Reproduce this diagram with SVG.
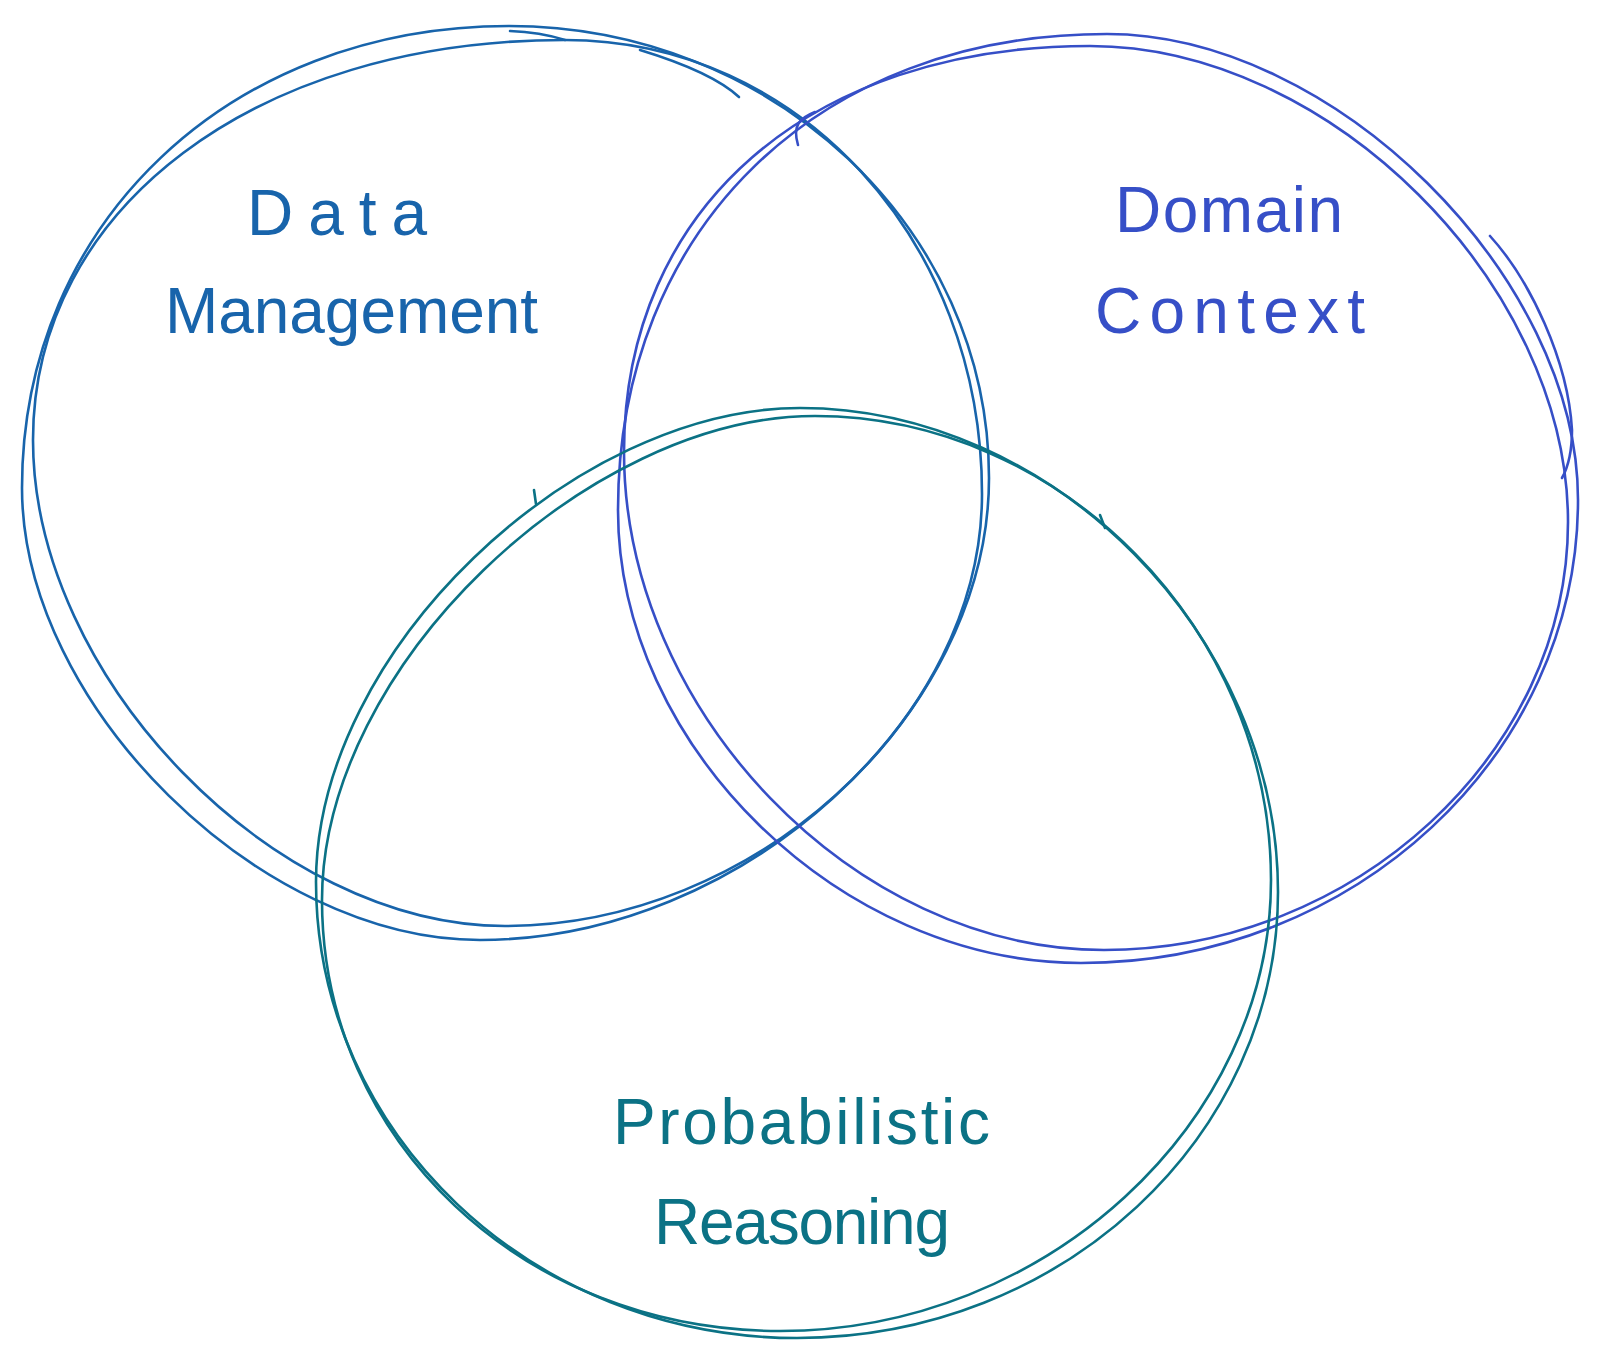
<svg xmlns="http://www.w3.org/2000/svg" width="1603" height="1367" viewBox="0 0 1603 1367">
<style>
.s{fill:none;stroke-width:2.6;stroke-linecap:round;stroke-linejoin:round}
.dm{stroke:#1864ab}
.dc{stroke:#364fc7}
.pr{stroke:#0b7285}
.t{font-family:"Liberation Sans",Arial,sans-serif;font-size:64px}
</style>
<rect width="1603" height="1367" fill="#ffffff"/>
<g id="data-management">
<path class="s dm" d="M 509 26 C 773 26 989 229 989 478 C 989 716 742 940 480 940 C 260 940 22 705 22 488 C 22 223 230 26 509 26"/>
<path class="s dm" d="M 565 40 C 799 40 982 240 982 494 C 982 719 753 926 505 926 C 274 926 33 678 33 440 C 33 208 256 40 565 40"/>
<path class="s dm" d="M 510 31 Q 540 32 565 40"/>
<path class="s dm" d="M 640 50 Q 712 72 739 97"/>
<text class="t" fill="#1864ab" x="247" y="235" textLength="180" lengthAdjust="spacing">Data</text>
<text class="t" fill="#1864ab" x="165" y="333" textLength="373" lengthAdjust="spacing">Management</text>
</g>
<g id="domain-context">
<path class="s dc" d="M 1107 34 C 1333 34 1578 276 1578 500 C 1578 755 1354 963 1081 963 C 840 963 618 746 618 510 C 618 229 818 34 1107 34"/>
<path class="s dc" d="M 1090 46 C 1329 46 1568 284 1568 522 C 1568 753 1355 950 1104 950 C 854 950 624 711 624 452 C 624 208 810 46 1090 46"/>
<path class="s dc" d="M 1490 236 C 1530 280 1568 360 1572 430 Q 1572 460 1562 478"/>
<path class="s dc" d="M 815 112 C 800 118 792 125 798 145"/>
<text class="t" fill="#364fc7" x="1115" y="232" textLength="228" lengthAdjust="spacing">Domain</text>
<text class="t" fill="#364fc7" x="1095" y="333" textLength="270" lengthAdjust="spacing">Context</text>
</g>
<g id="probabilistic-reasoning">
<path class="s pr" d="M 800 408 C 1053 408 1278 635 1278 892 C 1278 1137 1062 1338 797 1338 C 532 1338 316 1133 316 882 C 316 650 575 408 800 408"/>
<path class="s pr" d="M 815 416 C 1061 416 1271 629 1271 880 C 1271 1124 1045 1331 780 1331 C 524 1331 322 1141 322 900 C 322 666 588 416 815 416"/>
<path class="s pr" d="M 534 490 L 536 504"/>
<path class="s pr" d="M 1100 515 L 1105 528"/>
<text class="t" fill="#0b7285" x="613" y="1144" textLength="377" lengthAdjust="spacing">Probabilistic</text>
<text class="t" fill="#0b7285" x="654" y="1244" textLength="296" lengthAdjust="spacing">Reasoning</text>
</g>
<g id="connectors"></g>
</svg>
